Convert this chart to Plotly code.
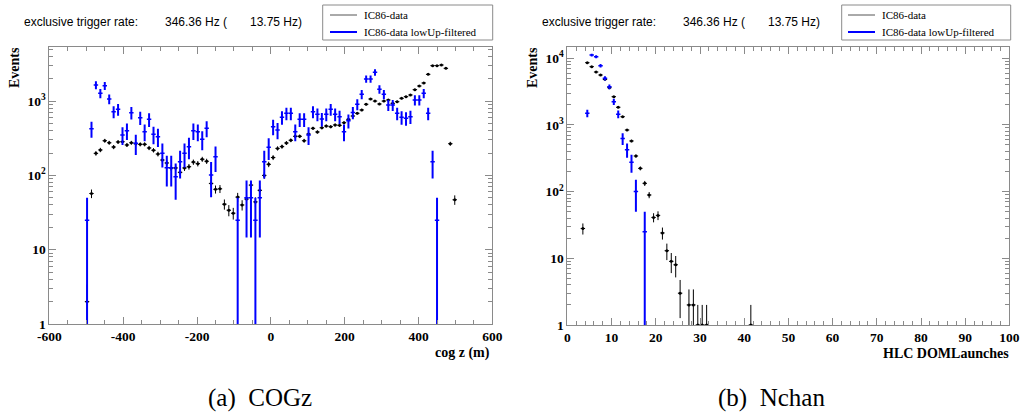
import numpy as np
import plotly.graph_objects as go

# ---------------- data ----------------
# Left panel: cog z histogram, 12 m bins, first filled bin centred at -498 m
cogz_bin_width = 12
cogz_first_center = -498
cogz_ic86 = [2, 57, 198, 220, 293, 275, 241, 282, 284, 257, 275, 267, 262, 262, 234,
             218, 194, 161, 147, 126, 126, 110, 126, 131, 151, 144, 165, 155, 78, 65,
             66, 41, 34, 31, 51, 40, 48, 74, 44, 63, 100, 141, 174, 231, 244, 273, 297,
             336, 336, 293, 361, 430, 384, 438, 462, 453, 477, 472, 512, 569, 630, 685,
             760, 906, 1067, 1000, 914, 1000, 1035, 934, 982, 1090, 1148, 1209, 1426,
             1597, 1753, 2290, 3000, 3000, 3060, 2760, 267, 47]
cogz_lowup = [25, 425, 1648, 1273, 1610, 1067, 720, 776, 350, 400, 698, 270, 598, 387,
              569, 357, 332, 198, 127, 127, 96, 153, 198, 243, 400, 387, 306, 430, 101,
              178, 0, 0, 0, 0, 25, 0, 50, 50, 25, 50, 153, 239, 453, 408, 605, 685, 685,
              387, 569, 569, 350, 720, 664, 574, 664, 776, 664, 617, 387, 545, 700, 906,
              1234, 1983, 1983, 2440, 1442, 1234, 886, 886, 685, 605, 587, 617, 1035,
              1035, 1273, 685, 153, 25]

# Right panel: HLC DOMLaunches, unit bins
nchan_bin_width = 1
nchan_ic86_first_bin = 3
nchan_ic86 = [28, 8570, 7470, 6210, 5600, 4820, 3610, 2650, 1837, 1328, 839, 574, 342,
              223, 133, 89, 41, 44, 24, 13, 9, 8, 3, 0, 2, 2, 1, 1, 1, 0, 0, 0, 0, 0, 0,
              0, 0, 0, 1]
nchan_lowup_first_bin = 4
nchan_lowup = [1500, 11175, 10540, 7720, 5000, 3740, 2225, 1450, 625, 425, 275, 100, 0, 25]

lowup_weight = 25  # prescale weight of the filtered sample (sets its error bars)

left_xticks = [-600, -400, -200, 0, 200, 400, 600]
right_xticks = [0, 10, 20, 30, 40, 50, 60, 70, 80, 90, 100]
left_yticks = [1, 10, 100, 1000]
left_yticktext = ["1", "10", "10<sup>2</sup>", "10<sup>3</sup>"]
right_yticks = [1, 10, 100, 1000, 10000]
right_yticktext = ["1", "10", "10<sup>2</sup>", "10<sup>3</sup>", "10<sup>4</sup>"]

rate_label = "exclusive trigger rate:"
rate_total = "346.36 Hz ("
rate_filtered = "13.75 Hz)"
legend_names = ["IC86-data", "IC86-data lowUp-filtered"]

# ---------------- helpers ----------------
W, H = 1023, 419


def px(x):
    return x / W


def py(y):
    return 1 - y / H


def prep(first_center, width, vals):
    v = np.array(vals, dtype=float)
    x = first_center + width * np.arange(len(v))
    y = np.where(v > 0, v, np.nan)
    return x, y


BLACK = "#000000"
BLUE = "#0000ff"
SERIF = "Liberation Serif"
SANS = "Liberation Sans"

fig = go.Figure()


def add_black(x, y, half, xa, ya):
    fig.add_trace(go.Scatter(
        x=x, y=y, mode="markers", xaxis=xa, yaxis=ya, showlegend=False,
        marker=dict(symbol="circle", size=3, color=BLACK),
        error_y=dict(type="sqrt", color=BLACK, thickness=1, width=0),
        error_x=dict(type="constant", value=half, color=BLACK, thickness=1, width=0),
        cliponaxis=True,
    ))


def add_blue(x, y, half, xa, ya):
    err = np.sqrt(lowup_weight * np.nan_to_num(y))
    fig.add_trace(go.Scatter(
        x=x, y=y, mode="markers", xaxis=xa, yaxis=ya, showlegend=False,
        marker=dict(symbol="circle", size=1, color=BLUE),
        error_y=dict(type="data", array=err, color=BLUE, thickness=2, width=0),
        error_x=dict(type="constant", value=half, color=BLUE, thickness=1.5, width=0),
    ))


xb, yb = prep(cogz_first_center, cogz_bin_width, cogz_ic86)
xl, yl = prep(cogz_first_center, cogz_bin_width, cogz_lowup)
add_black(xb, yb, cogz_bin_width / 2, "x", "y")
add_blue(xl, yl, cogz_bin_width / 2, "x", "y")

xb2, yb2 = prep(nchan_ic86_first_bin + 0.5, nchan_bin_width, nchan_ic86)
xl2, yl2 = prep(nchan_lowup_first_bin + 0.5, nchan_bin_width, nchan_lowup)
add_black(xb2, yb2, nchan_bin_width / 2, "x2", "y2")
add_blue(xl2, yl2, nchan_bin_width / 2, "x2", "y2")

tickfont = dict(family=SERIF, size=13.5, color=BLACK, weight="bold")
AXC = "#8a8a8a"


def log_minor(maxdec):
    return [m * 10 ** d for d in range(maxdec + 1) for m in range(2, 10)]


common = dict(showline=True, linecolor=AXC, linewidth=1, mirror="allticks",
              ticks="inside", tickcolor=AXC, tickwidth=1, ticklen=7,
              showgrid=False, zeroline=False, tickfont=tickfont, automargin=False)

fig.update_layout(
    width=W, height=H, autosize=False,
    margin=dict(l=0, r=0, t=0, b=0, autoexpand=False),
    paper_bgcolor="white", plot_bgcolor="white",
    showlegend=False,
    xaxis=dict(domain=[px(49.4), px(492.4)], range=[-600, 600], anchor="y",
               tickvals=left_xticks, ticktext=[str(t) for t in left_xticks],
               minor=dict(ticks="inside", ticklen=4, dtick=50, tickcolor=AXC),
               **common),
    yaxis=dict(domain=[py(324), py(47)], type="log", range=[0, 3.728], anchor="x",
               tickvals=left_yticks, ticktext=left_yticktext,
               minor=dict(ticks="inside", ticklen=4, tickvals=log_minor(3), tickcolor=AXC),
               **common),
    xaxis2=dict(domain=[px(567.4), px(1009.4)], range=[0, 100], anchor="y2",
                tickvals=right_xticks, ticktext=[str(t) for t in right_xticks],
                minor=dict(ticks="inside", ticklen=4, dtick=2, tickcolor=AXC),
                **common),
    yaxis2=dict(domain=[py(325), py(47)], type="log", range=[0, 4.168], anchor="x2",
                tickvals=right_yticks, ticktext=right_yticktext,
                minor=dict(ticks="inside", ticklen=4, tickvals=log_minor(4), tickcolor=AXC),
                **common),
)

ann = []
shapes = []
for off in (0, 518):
    # trigger rate text
    rfont = dict(family=SANS, size=12, color=BLACK)
    ann.append(dict(x=px(21.7 + off), y=py(21.7), xref="paper", yref="paper", text=rate_label,
                    showarrow=False, xanchor="left", yanchor="middle", font=rfont))
    ann.append(dict(x=px(163.3 + off), y=py(21.7), xref="paper", yref="paper", text=rate_total,
                    showarrow=False, xanchor="left", yanchor="middle", font=rfont))
    ann.append(dict(x=px(248.3 + off), y=py(21.7), xref="paper", yref="paper", text=rate_filtered,
                    showarrow=False, xanchor="left", yanchor="middle", font=rfont))
    # legend box
    lx0 = 322.7 + off + (0 if off == 0 else 1)
    shapes.append(dict(type="rect", xref="paper", yref="paper", x0=px(lx0), x1=px(492.7 + off),
                       y0=py(40), y1=py(5), line=dict(color=AXC, width=1), fillcolor="white"))
    shapes.append(dict(type="line", xref="paper", yref="paper", x0=px(330 + off), x1=px(357 + off),
                       y0=py(15), y1=py(15), line=dict(color="#555555", width=1)))
    shapes.append(dict(type="line", xref="paper", yref="paper", x0=px(330 + off), x1=px(357 + off),
                       y0=py(32), y1=py(32), line=dict(color=BLUE, width=2)))
    lfont = dict(family=SERIF, size=11, color=BLACK)
    ann.append(dict(x=px(361.7 + off), y=py(15), xref="paper", yref="paper", text=legend_names[0],
                    showarrow=False, xanchor="left", yanchor="middle", font=lfont))
    ann.append(dict(x=px(361.7 + off), y=py(32), xref="paper", yref="paper", text=legend_names[1],
                    showarrow=False, xanchor="left", yanchor="middle", font=lfont))
    # y title
    ann.append(dict(x=px(14 + off), y=py(68), xref="paper", yref="paper", text="Events",
                    showarrow=False, xanchor="center", yanchor="middle", textangle=-90,
                    font=dict(family=SERIF, size=14, color=BLACK, weight="bold")))

tfont = dict(family=SERIF, size=14, color=BLACK, weight="bold")
ann.append(dict(x=px(492), y=py(353), xref="paper", yref="paper", text="cog z (m)",
                showarrow=False, xanchor="right", yanchor="middle", font=tfont))
ann.append(dict(x=px(1011), y=py(353), xref="paper", yref="paper", text="HLC DOMLaunches",
                showarrow=False, xanchor="right", yanchor="middle", font=tfont))
cfont = dict(family=SERIF, size=25, color=BLACK)
ann.append(dict(x=px(260), y=py(398), xref="paper", yref="paper", text="(a)  COGz",
                showarrow=False, xanchor="center", yanchor="middle", font=cfont))
ann.append(dict(x=px(771), y=py(398), xref="paper", yref="paper", text="(b)  Nchan",
                showarrow=False, xanchor="center", yanchor="middle", font=cfont))

fig.update_layout(annotations=ann, shapes=shapes)
fig.write_html("out.html")
